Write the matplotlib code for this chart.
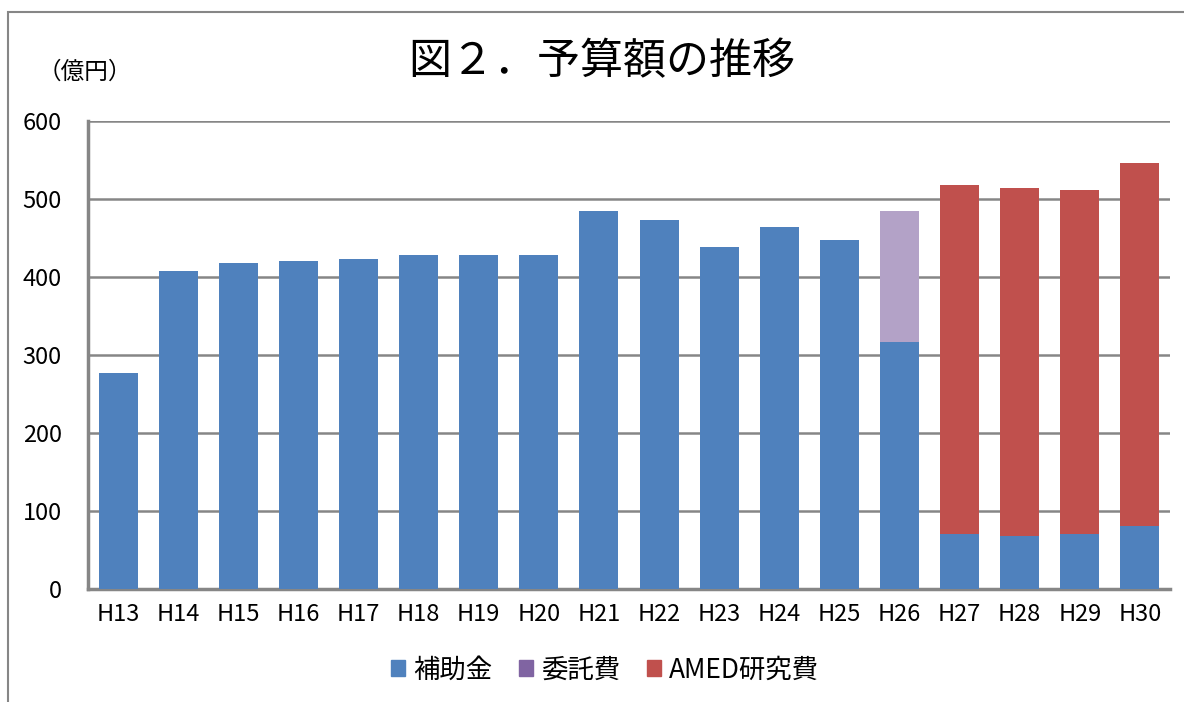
import matplotlib.pyplot as plt
from matplotlib.patches import Patch, Rectangle

plt.rcParams['font.family'] = ['Noto Sans CJK JP', 'DejaVu Sans']

# 予算額（億円）
years = ['H13', 'H14', 'H15', 'H16', 'H17', 'H18', 'H19', 'H20', 'H21',
         'H22', 'H23', 'H24', 'H25', 'H26', 'H27', 'H28', 'H29', 'H30']
hojokin = [277, 408, 418, 420, 423, 428, 428, 428, 485,
           473, 438, 464, 447, 317, 71, 68, 71, 81]
itakuhi = [0, 0, 0, 0, 0, 0, 0, 0, 0,
           0, 0, 0, 0, 168, 0, 0, 0, 0]
amed = [0, 0, 0, 0, 0, 0, 0, 0, 0,
        0, 0, 0, 0, 0, 447, 446, 441, 465]

c_blue = '#4F81BD'
c_purple = '#B3A2C7'
c_purple_leg = '#8064A2'
c_red = '#C0504D'

fig = plt.figure(figsize=(11.84, 7.02), dpi=100)
ax = fig.add_axes([88 / 1184, 1 - 589 / 702, (1170 - 88) / 1184, (589 - 121) / 702])

x = range(len(years))
w = 0.65
bottom2 = [a + b for a, b in zip(hojokin, itakuhi)]
ax.bar(x, hojokin, w, color=c_blue, linewidth=0, zorder=3)
ax.bar(x, itakuhi, w, bottom=hojokin, color=c_purple, linewidth=0, zorder=3)
ax.bar(x, amed, w, bottom=bottom2, color=c_red, linewidth=0, zorder=3)

ax.set_xlim(-0.5, len(years) - 0.5)
ax.set_ylim(0, 600)
ax.set_yticks(range(0, 601, 100))
ax.set_xticks(list(x))
ax.set_xticklabels(years)
ax.yaxis.grid(True, color='#868686', linewidth=1.8, zorder=0)
ax.tick_params(axis='both', length=0, labelsize=17)
ax.tick_params(axis='x', pad=10)
ax.tick_params(axis='y', pad=19)
for s in ['top', 'right']:
    ax.spines[s].set_visible(False)
for s in ['left', 'bottom']:
    ax.spines[s].set_color('#868686')
    ax.spines[s].set_linewidth(2.5)

fig.text(602 / 1184, 1 - 62 / 702, '図２．予算額の推移', fontsize=31, ha='center', va='center')
fig.text(38 / 1184, 1 - 72 / 702, '（億円）', fontsize=17, ha='left', va='center')

handles = [Patch(color=c_blue, label='補助金'),
           Patch(color=c_purple_leg, label='委託費'),
           Patch(color=c_red, label='AMED研究費')]
fig.legend(handles=handles, loc='center', bbox_to_anchor=(605 / 1184, 1 - 670 / 702),
           ncol=3, frameon=False, fontsize=19, handlelength=0.55, handleheight=0.55,
           handletextpad=0.3, columnspacing=1.0)

# 外枠
fig.patches.append(Rectangle((8 / 1184, -0.1), 1.2, 1 - 12 / 702 + 0.1,
                             transform=fig.transFigure, fill=False,
                             edgecolor='#868686', linewidth=1.5))

fig.savefig('out.png', dpi=100)
